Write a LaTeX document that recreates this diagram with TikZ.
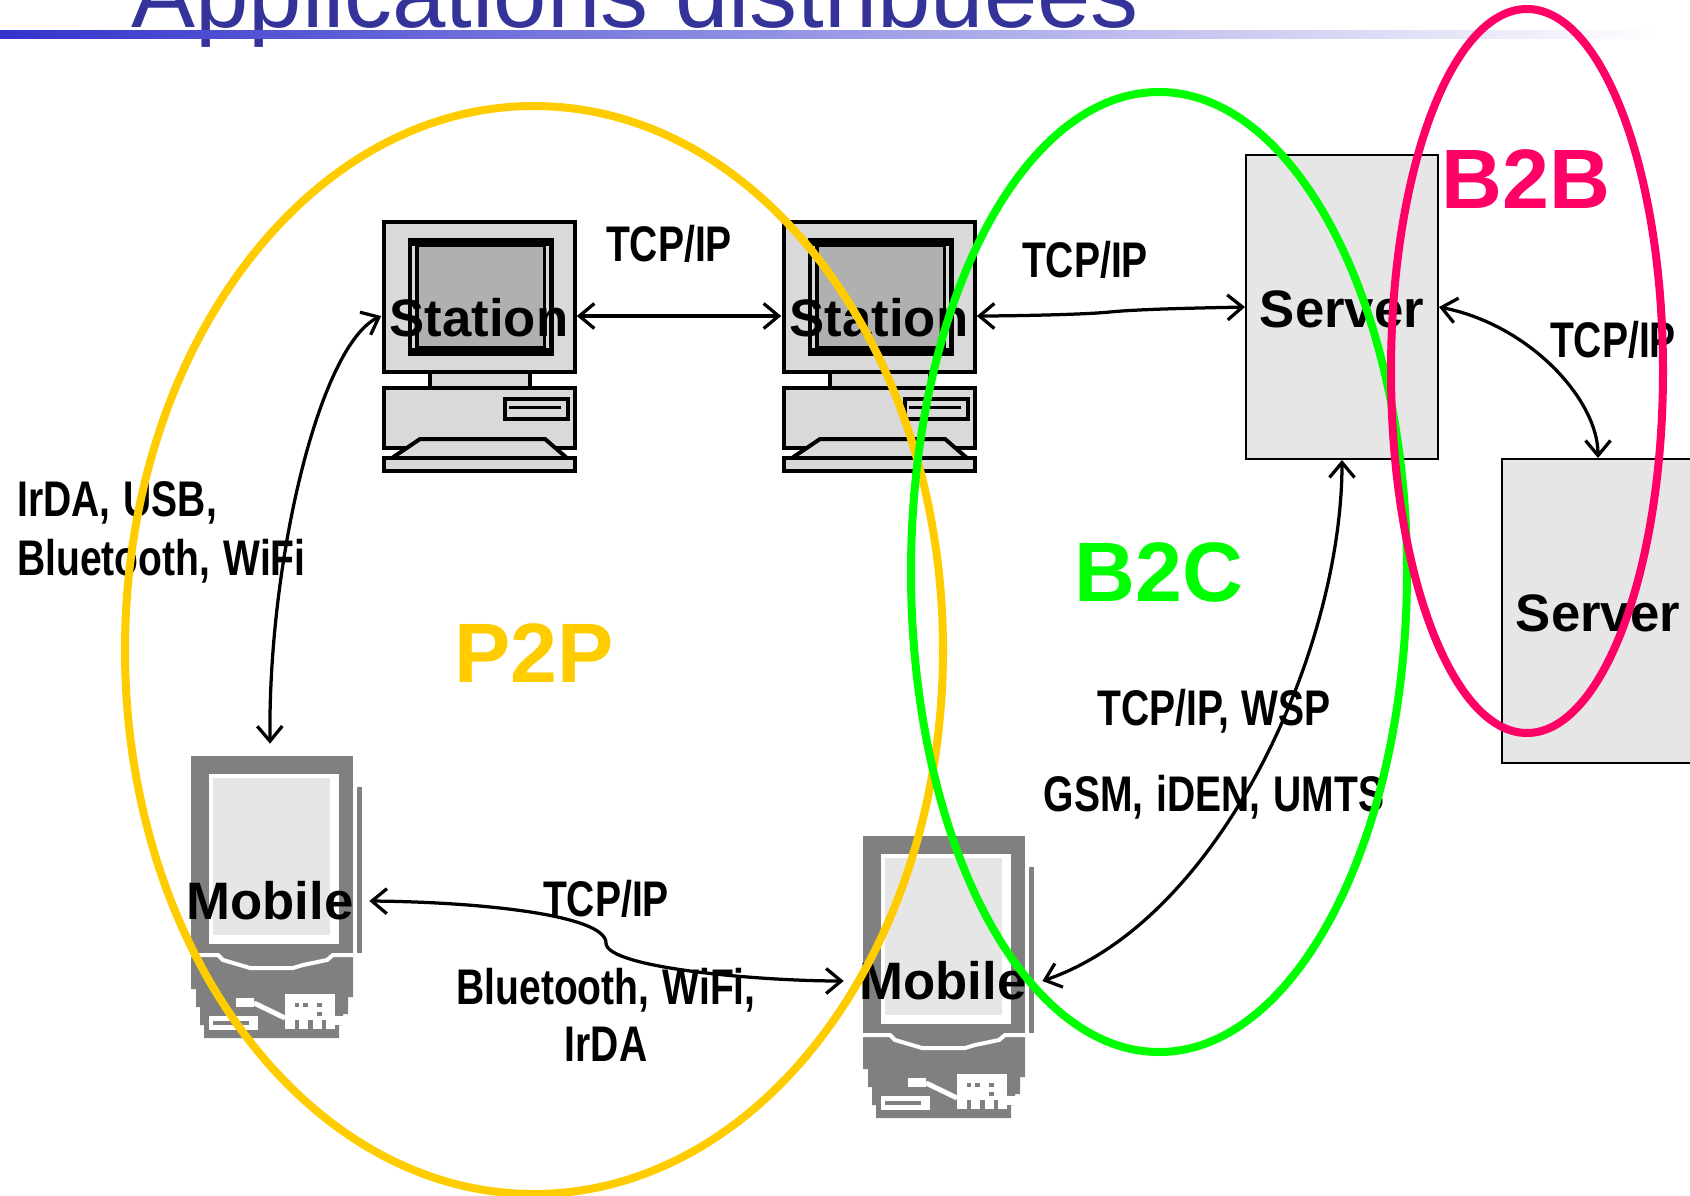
\documentclass[tikz,border=0pt]{standalone}
\usepackage{fontspec}
\usepackage{xcolor}
\usetikzlibrary{arrows.meta}
\setmainfont{Liberation Sans}
\newfontfamily\narrowfont[FakeStretch=0.78,WordSpace=1.2]{Liberation Sans}
\definecolor{titleblue}{HTML}{333399}
\definecolor{barblue}{HTML}{3333CC}
\definecolor{p2pyellow}{HTML}{FFCC00}
\definecolor{b2cgreen}{HTML}{00FF00}
\definecolor{b2bpink}{HTML}{FF0066}
\definecolor{panelgray}{HTML}{E6E6E6}
\definecolor{casegray}{HTML}{D9D9D9}
\definecolor{screengray}{HTML}{B0B0B0}
\definecolor{mobilegray}{HTML}{808080}
\tikzset{
  devicelabel/.style={font=\fontsize{30}{34}\selectfont\bfseries, inner sep=0pt},
  stationnode/.style={devicelabel, text height=24pt, minimum width=3.9cm, minimum height=5cm},
  mobilenode/.style={devicelabel, minimum width=3.96cm, minimum height=6.28cm},
  servernode/.style={devicelabel, text height=24pt, draw=black, fill=panelgray, line width=0.04cm, minimum width=3.84cm, minimum height=6.08cm},
  linklabel/.style={font=\narrowfont\fontsize{28.5}{32}\selectfont\bfseries, inner sep=0pt},
  zonelabel/.style={font=\fontsize{48}{52}\selectfont\bfseries, inner sep=0pt},
  link/.style={line width=0.065cm, {Straight Barb[length=0.3cm,width=0.5cm]}-{Straight Barb[length=0.3cm,width=0.5cm]}},
  zone/.style={line width=0.16cm},
  station icon/.pic={
    \draw[line width=0.08cm, fill=casegray] (2,2) rectangle (193,152);
    \fill[black] (26,18) rectangle (172,136);
    \fill[casegray] (30,26) rectangle (33,128);
    \fill[casegray] (164,26) rectangle (167,128);
    \fill[screengray] (37,27) rectangle (161,126);
    \draw[line width=0.08cm, fill=casegray] (48,152) rectangle (148,168);
    \draw[line width=0.08cm, fill=casegray] (2,168) rectangle (193,228);
    \draw[line width=0.08cm, fill=casegray] (123,179) rectangle (186,199);
    \draw[line width=0.06cm] (127,187) -- (179,187);
    \draw[line width=0.08cm, fill=casegray] (38,219) -- (163,219) -- (185,238) -- (10,238) -- cycle;
    \draw[line width=0.08cm, fill=casegray] (2,238) rectangle (193,251);
  },
  mobile icon/.pic={
    \fill[mobilegray] (0,0) rectangle (162,197);
    \fill[mobilegray] (0,197) -- (162,197) -- (162,241) -- (157,241) -- (157,258) -- (152,258) -- (152,269) -- (148,269) -- (148,282) -- (13,282) -- (13,269) -- (9,269) -- (9,251) -- (5,251) -- (5,233) -- (0,233) -- cycle;
    \fill[white] (18,18) rectangle (148,188);
    \fill[panelgray] (22,22) rectangle (139,179);
    \fill[mobilegray] (166,31) rectangle (171,197);
    \draw[white, line width=0.08cm] (0,199) -- (27,199) -- (32,204) -- (49,209) -- (59,212) -- (102,212) -- (112,209) -- (136,204) -- (142,199) -- (162,199);
    \fill[white] (45,242) rectangle (63,251);
    \draw[white, line width=0.1cm] (63,247) -- (94,262);
    \fill[white] (94,238) rectangle (144,273);
    \fill[white] (144,260) rectangle (157,264);
    \fill[white] (144,264) rectangle (153,269);
    \fill[mobilegray] (104,247) rectangle (108,251);
    \fill[mobilegray] (112,247) rectangle (117,251);
    \fill[mobilegray] (126,247) rectangle (131,251);
    \fill[mobilegray] (126,256) rectangle (131,260);
    \fill[mobilegray] (104,264) rectangle (108,273);
    \fill[mobilegray] (117,264) rectangle (122,273);
    \fill[mobilegray] (131,264) rectangle (135,273);
    \fill[white] (18,260) rectangle (67,274);
    \fill[mobilegray] (22,265) rectangle (58,269);
  }
}
\begin{document}
\begin{tikzpicture}[x=0.02cm, y=-0.02cm]
\useasboundingbox (0,0) rectangle (1690,1196);
\clip (0,0) rectangle (1690,1196);

% title
\node[text=titleblue, anchor=base west, inner sep=0pt, font=\fontsize{54.6}{60}\selectfont] (title) at (131,28) {Applications distribuées};
\shade[left color=barblue, middle color=barblue!38!white, right color=white] (0,31) rectangle (1660,39);

% icons
\pic at (382,220) {station icon};
\pic at (782,220) {station icon};
\pic at (191,756) {mobile icon};
\pic at (863,836) {mobile icon};

% nodes
\node[stationnode] (station1) at (479,316) {Station};
\node[stationnode] (station2) at (879,316) {Station};
\node[mobilenode] (mobile1) at (270,901) {Mobile};
\node[mobilenode] (mobile2) at (943,981) {Mobile};
\node[servernode] (server1) at (1342,307) {Server};
\node[servernode] (server2) at (1598,611) {Server};

\coordinate (kink) at (1110,312);
\coordinate (bend) at (606,943);

% links
\draw[link] (station1.east) -- (station2.west);
\draw[link] (station2.east) .. controls (1000,316) and (1080,315) .. (kink) .. controls (1140,309) and (1200,308) .. (server1.west);
\draw[link] (server1.east) .. controls (1530,325) and (1598,400) .. (server2.north);
\draw[link] (station1.west) .. controls (320,345) and (268,560) .. (mobile1.north);
\draw[link] (mobile1.east) .. controls (480,902) and (606,915) .. (bend) .. controls (606,968) and (760,981) .. (mobile2.west);
\draw[link] (server1.south) .. controls (1342,650) and (1220,920) .. (mobile2.east);

% labels
\node[linklabel] (tcp1) at (669,244) {TCP/IP};
\node[linklabel] (tcp2) at (1085,260) {TCP/IP};
\node[linklabel] (tcp3) at (1613,340) {TCP/IP};
\node[linklabel, anchor=west] (irda1) at (17,503) {IrDA, USB,};
\node[linklabel, anchor=west] (blue1) at (17,561) {Bluetooth, WiFi};
\node[linklabel] (wsp) at (1214,711) {TCP/IP, WSP};
\node[linklabel] (gsm) at (1214,797) {GSM, iDEN, UMTS};
\node[linklabel] (tcp4) at (606,899) {TCP/IP};
\node[linklabel] (blue2) at (606,990) {Bluetooth, WiFi,};
\node[linklabel] (irda2) at (606,1044) {IrDA};

\node[zonelabel, text=p2pyellow] (p2p) at (534,653) {P2P};
\node[zonelabel, text=b2cgreen] (b2c) at (1159,572) {B2C};
\node[zonelabel, text=b2bpink] (b2b) at (1526,179) {B2B};

% zones
\draw[zone, p2pyellow] (534,650) ellipse (409 and 544);
\draw[zone, b2cgreen] (1159,572) ellipse (248 and 480);
\draw[zone, b2bpink] (1527,371) ellipse (136 and 362);
\end{tikzpicture}
\end{document}
